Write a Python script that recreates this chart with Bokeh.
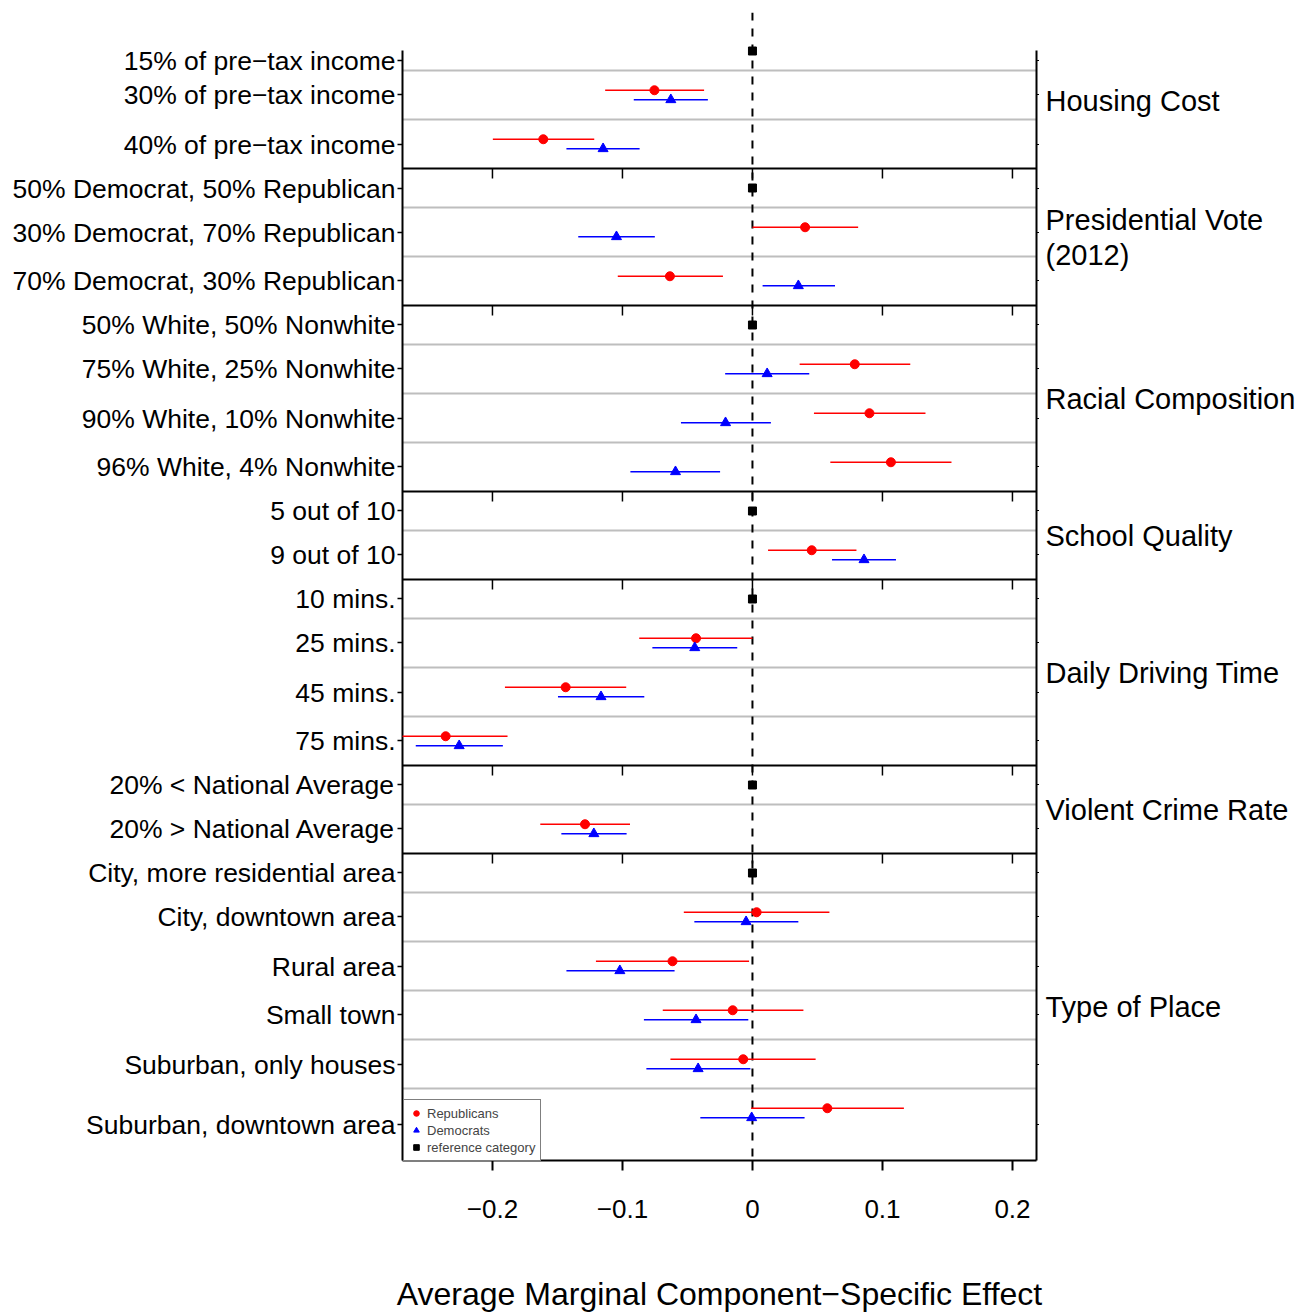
import numpy as np
from bokeh.plotting import figure
from bokeh.models import Range1d, FixedTicker, Legend, LegendItem, LinearAxis
from bokeh.embed import file_html
from bokeh.resources import INLINE

FONT = "Liberation Sans"

# ---------------- data ----------------
panel_names = [
    "Housing Cost",
    "Presidential Vote\n(2012)",
    "Racial Composition",
    "School Quality",
    "Daily Driving Time",
    "Violent Crime Rate",
    "Type of Place",
]
levels = [
    ["15% of pre\u2212tax income", "30% of pre\u2212tax income", "40% of pre\u2212tax income"],
    ["50% Democrat, 50% Republican", "30% Democrat, 70% Republican", "70% Democrat, 30% Republican"],
    ["50% White, 50% Nonwhite", "75% White, 25% Nonwhite", "90% White, 10% Nonwhite", "96% White, 4% Nonwhite"],
    ["5 out of 10", "9 out of 10"],
    ["10 mins.", "25 mins.", "45 mins.", "75 mins."],
    ["20% < National Average", "20% > National Average"],
    ["City, more residential area", "City, downtown area", "Rural area", "Small town",
     "Suburban, only houses", "Suburban, downtown area"],
]
# estimates for the non-reference levels, in order
rep_est = [-0.0754, -0.1609, 0.0405, -0.0635, 0.0787, 0.0900, 0.1065, 0.0456, -0.0434, -0.1437,
           -0.2360, -0.1288, 0.0032, -0.0615, -0.0152, -0.0071, 0.0576]
rep_lo = [-0.1133, -0.1997, 0.0000, -0.1036, 0.0363, 0.0473, 0.0599, 0.0120, -0.0871, -0.1904,
          -0.2840, -0.1632, -0.0528, -0.1204, -0.0690, -0.0631, -0.0010]
rep_hi = [-0.0372, -0.1217, 0.0813, -0.0227, 0.1214, 0.1331, 0.1531, 0.0800, 0.0000, -0.0971,
          -0.1884, -0.0942, 0.0592, -0.0026, 0.0392, 0.0486, 0.1165]
dem_est = [-0.0628, -0.1149, -0.1046, 0.0353, 0.0113, -0.0207, -0.0592, 0.0858, -0.0444, -0.1165,
           -0.2256, -0.1220, -0.0049, -0.1020, -0.0434, -0.0418, -0.0006]
dem_lo = [-0.0913, -0.1431, -0.1340, 0.0078, -0.0210, -0.0550, -0.0939, 0.0612, -0.0770, -0.1496,
          -0.2590, -0.1470, -0.0447, -0.1431, -0.0835, -0.0816, -0.0401]
dem_hi = [-0.0343, -0.0868, -0.0751, 0.0635, 0.0437, 0.0142, -0.0249, 0.1104, -0.0117, -0.0832,
          -0.1920, -0.0968, 0.0353, -0.0599, -0.0032, -0.0016, 0.0401]

xticks = [-0.2, -0.1, 0.0, 0.1, 0.2]
xtick_labels = ["\u22120.2", "\u22120.1", "0", "0.1", "0.2"]
x_title = "Average Marginal Component\u2212Specific Effect"
legend_labels = ["Republicans", "Democrats", "reference category"]

# ---------------- layout ----------------
XLIM = (-0.2692, 0.2185)
PX_PER_UNIT = 1300.0
XPAD = 4 / PX_PER_UNIT
PLOT_TOP, PLOT_BOTTOM, DASH_TOP = 50, 1160, 12
FIRST_BAND_TOP = 31
REF_H, ROW_H = 39, 49
OFFSET = 4.75
PANEL_FONT_PX = 29
PANEL_LINE_H = 1.2 * PANEL_FONT_PX

ref_y, row_y, label_y, label_txt, gray_y, sep_y, panel_label_y = [], [], [], [], [], [], []
top = FIRST_BAND_TOP
for pi, lv in enumerate(levels):
    ptop = top
    for li, name in enumerate(lv):
        h = REF_H if li == 0 else ROW_H
        bottom = top + h
        vis_top = max(top, PLOT_TOP)
        last = (pi == len(levels) - 1 and li == len(lv) - 1)
        vis_bot = PLOT_BOTTOM if last else bottom
        label_y.append(int(round((vis_top + vis_bot) / 2)))
        label_txt.append(name)
        if li == 0:
            ref_y.append(top + h / 2)
        else:
            row_y.append(top + h / 2)
            gray_y.append(top)
        top = bottom
    pbot = PLOT_BOTTOM if pi == len(levels) - 1 else top
    sep_y.append(pbot)
    panel_label_y.append((ptop + pbot) / 2)

# right-hand panel titles, one tick per text line
ptick_y, ptick_txt = [], []
for name, yc in zip(panel_names, panel_label_y):
    lines = name.split("\n")
    n = len(lines)
    for k, ln in enumerate(lines):
        ptick_y.append(int(round(yc + (k - (n - 1) / 2) * PANEL_LINE_H)))
        ptick_txt.append(ln)

row_y = np.array(row_y)
rep_y = row_y - OFFSET
dem_y = row_y + OFFSET
rep_lo_c = np.clip(rep_lo, XLIM[0], XLIM[1])
rep_hi_c = np.clip(rep_hi, XLIM[0], XLIM[1])
dem_lo_c = np.clip(dem_lo, XLIM[0], XLIM[1])
dem_hi_c = np.clip(dem_hi, XLIM[0], XLIM[1])

FW = int(round((XLIM[1] - XLIM[0] + 2 * XPAD) * PX_PER_UNIT))
FH = PLOT_BOTTOM + 3 - DASH_TOP

p = figure(frame_width=FW, frame_height=FH,
           x_range=Range1d(XLIM[0] - XPAD, XLIM[1] + XPAD),
           y_range=Range1d(PLOT_BOTTOM + 3, DASH_TOP),
           output_backend="svg", toolbar_location=None,
           min_border_left=398, min_border_right=265,
           min_border_top=DASH_TOP, min_border_bottom=150)
p.outline_line_color = None
p.xgrid.visible = False
p.ygrid.visible = False
p.background_fill_color = "white"
p.border_fill_color = "white"

# gray row separators
p.multi_line(xs=[[XLIM[0], XLIM[1]] for _ in gray_y], ys=[[g, g] for g in gray_y],
             line_color="#BEBEBE", line_width=2)
# panel separators and outer border
p.multi_line(xs=[[XLIM[0], XLIM[1]] for _ in sep_y], ys=[[s, s] for s in sep_y],
             line_color="black", line_width=2)
p.multi_line(xs=[[XLIM[0], XLIM[0]], [XLIM[1], XLIM[1]]],
             ys=[[PLOT_TOP, PLOT_BOTTOM], [PLOT_TOP, PLOT_BOTTOM]],
             line_color="black", line_width=2)
# x ticks under each inner panel
tx, ty = [], []
for s in sep_y[:-1]:
    for t in xticks:
        tx.append(t)
        ty.append(s)
tx = np.array(tx)
ty = np.array(ty)
p.segment(x0=tx, y0=ty, x1=tx, y1=ty + 10, line_color="black", line_width=1.5)
# small ticks on the right border
ry = np.array(label_y, dtype=float)
p.segment(x0=np.full(len(ry), XLIM[1]), y0=ry, x1=np.full(len(ry), XLIM[1] + 2.5 / PX_PER_UNIT),
          y1=ry, line_color="black", line_width=1)

# zero line
p.line(x=[0, 0], y=[DASH_TOP, PLOT_BOTTOM], line_color="black", line_width=2, line_dash="8 8")

# confidence intervals
p.segment(x0=rep_lo_c, y0=rep_y, x1=rep_hi_c, y1=rep_y, line_color="#FF0000", line_width=1.3)
p.segment(x0=dem_lo_c, y0=dem_y, x1=dem_hi_c, y1=dem_y, line_color="#0000FF", line_width=1.5)

r_rep = p.scatter(x=rep_est, y=rep_y, marker="circle", size=9, fill_color="#FF0000", line_color="#FF0000")
r_dem = p.scatter(x=dem_est, y=dem_y, marker="triangle", size=10, fill_color="#0000FF", line_color="#0000FF")
r_ref = p.scatter(x=np.zeros(len(ref_y)), y=ref_y, marker="square", size=8, fill_color="black", line_color="black")

legend = Legend(items=[LegendItem(label=legend_labels[0], renderers=[r_rep]),
                       LegendItem(label=legend_labels[1], renderers=[r_dem]),
                       LegendItem(label=legend_labels[2], renderers=[r_ref])],
                location=(5, 2), margin=0, padding=5, spacing=1,
                label_text_font=FONT, label_text_font_size="13px",
                label_height=16, glyph_height=16, glyph_width=14, label_standoff=4,
                border_line_color="black", border_line_width=1.5,
                background_fill_color="white", background_fill_alpha=1.0)
p.add_layout(legend)

# left axis: level labels
p.yaxis.ticker = FixedTicker(ticks=label_y)
p.yaxis.major_label_overrides = dict(zip(label_y, label_txt))
p.yaxis.major_label_text_font = FONT
p.yaxis.major_label_text_font_size = "26.5px"
p.yaxis.major_label_text_color = "black"
p.yaxis.major_tick_in = 4
p.yaxis.major_tick_out = 1
p.yaxis.major_tick_line_width = 1.5
p.yaxis.minor_tick_line_color = None
p.yaxis.axis_line_color = None
p.yaxis.major_label_standoff = 2

# right axis: panel titles
raxis = LinearAxis(ticker=FixedTicker(ticks=ptick_y),
                   major_label_overrides=dict(zip(ptick_y, ptick_txt)),
                   major_label_text_font=FONT, major_label_text_font_size=f"{PANEL_FONT_PX}px",
                   major_label_text_color="black", major_tick_line_color=None,
                   minor_tick_line_color=None, axis_line_color=None,
                   major_tick_in=0, major_tick_out=0, major_label_standoff=5)
p.add_layout(raxis, "right")

# bottom axis
p.xaxis.ticker = FixedTicker(ticks=xticks)
p.xaxis.major_label_overrides = dict(zip(xticks, xtick_labels))
p.xaxis.major_label_text_font = FONT
p.xaxis.major_label_text_font_size = "26px"
p.xaxis.major_label_text_color = "black"
p.xaxis.major_tick_in = 3
p.xaxis.major_tick_out = 7
p.xaxis.major_tick_line_width = 2
p.xaxis.minor_tick_line_color = None
p.xaxis.axis_line_color = None
p.xaxis.major_label_standoff = 29
p.xaxis.axis_label = x_title
p.xaxis.axis_label_text_font = FONT
p.xaxis.axis_label_text_font_size = "32px"
p.xaxis.axis_label_text_font_style = "normal"
p.xaxis.axis_label_text_color = "black"
p.xaxis.axis_label_standoff = 55

open("out.html", "w").write(file_html(p, INLINE))
